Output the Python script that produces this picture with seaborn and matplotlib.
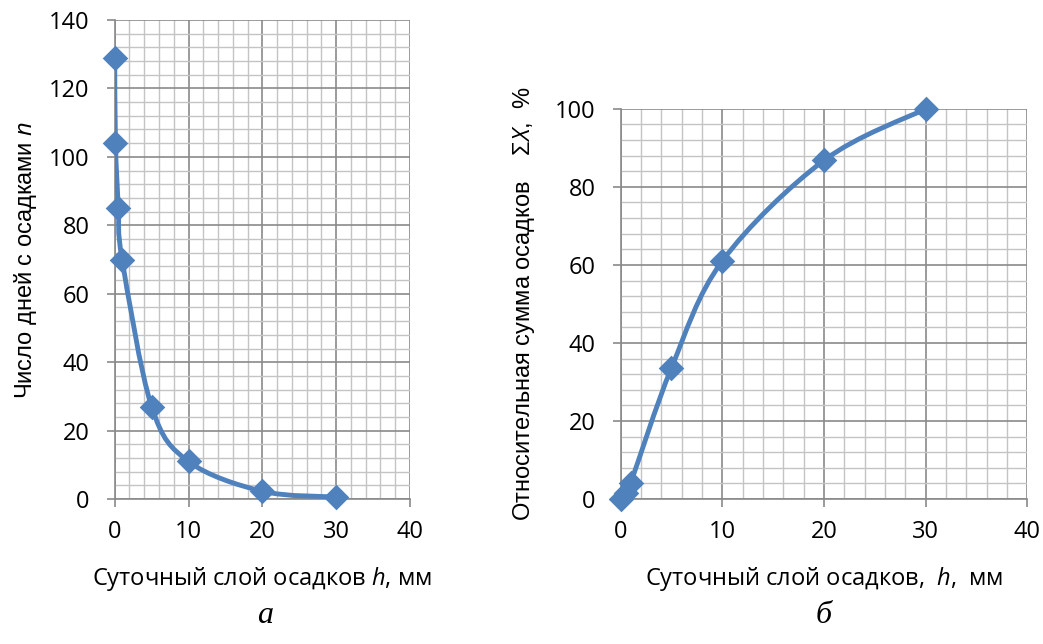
import numpy as np
import pandas as pd
import matplotlib
matplotlib.use("Agg")
import matplotlib.pyplot as plt
from matplotlib.path import Path
from matplotlib.patches import PathPatch
from matplotlib.ticker import MultipleLocator
import seaborn as sns

# panel a: number of days with precipitation
h_a = [0, 0.1, 0.5, 1, 5, 10, 20, 30]
n_days = [129, 104, 85, 70, 27, 11, 2.3, 0.6]

# panel b: relative cumulative precipitation, %
h_b = [0, 0.5, 1, 5, 10, 20, 30]
sum_x = [0, 1.5, 4.2, 33.6, 61, 86.8, 100]

BLUE = "#4F81BD"

sns.set_theme(style="white")
plt.rcParams['font.family'] = ['Open Sans', 'DejaVu Sans']
plt.rcParams['mathtext.fontset'] = 'custom'
plt.rcParams['mathtext.it'] = 'Open Sans:italic'
plt.rcParams['mathtext.rm'] = 'Open Sans'
plt.rcParams['text.color'] = 'black'
plt.rcParams['axes.labelcolor'] = 'black'


def smooth_line(ax, xs, ys):
    # excel-like smoothed line: cubic bezier with catmull-rom control points
    p = np.column_stack([xs, ys]).astype(float)
    pts = np.vstack([p[0], p, p[-1]])
    verts = [tuple(p[0])]
    codes = [Path.MOVETO]
    for i in range(1, len(pts) - 2):
        c1 = pts[i] + (pts[i + 1] - pts[i - 1]) / 6
        c2 = pts[i + 1] - (pts[i + 2] - pts[i]) / 6
        verts += [tuple(c1), tuple(c2), tuple(pts[i + 1])]
        codes += [Path.CURVE4] * 3
    ax.add_patch(PathPatch(Path(verts, codes), fill=False, edgecolor=BLUE,
                           lw=3.5, capstyle="round", joinstyle="round", zorder=3))


def style_axes(ax, ymax, ymajor):
    ax.set_xlim(0, 40)
    ax.set_ylim(0, ymax)
    ax.xaxis.set_major_locator(MultipleLocator(10))
    ax.xaxis.set_minor_locator(MultipleLocator(2))
    ax.yaxis.set_major_locator(MultipleLocator(ymajor))
    ax.yaxis.set_minor_locator(MultipleLocator(4))
    ax.grid(which="minor", color="#c4c4c4", lw=1.0)
    ax.grid(which="major", color="#8a8a8a", lw=1.2)
    ax.set_axisbelow(True)
    for s in ["top", "right"]:
        ax.spines[s].set_visible(False)
    for s in ["left", "bottom"]:
        ax.spines[s].set_color("#8a8a8a")
        ax.spines[s].set_linewidth(1.2)
    ax.tick_params(which="major", direction="out", length=6, width=1.2,
                   color="#8a8a8a", labelcolor="black", labelsize=17,
                   left=True, bottom=True)
    ax.tick_params(axis="x", pad=9)
    ax.tick_params(axis="y", pad=12)
    ax.tick_params(which="minor", length=0)


fig = plt.figure(figsize=(10.43, 6.44), dpi=100)
ax1 = fig.add_axes([0.110, 0.225, 0.283, 0.744])
ax2 = fig.add_axes([0.595, 0.225, 0.390, 0.606])

style_axes(ax1, 140, 20)
smooth_line(ax1, h_a, n_days)
sns.scatterplot(x=h_a, y=n_days, ax=ax1, marker="D", s=170, color=BLUE,
                edgecolor=BLUE, linewidth=0, zorder=4, clip_on=False)
ax1.set_xlabel("Суточный слой осадков $\\it{h}$, мм", fontsize=17, labelpad=15)
ax1.set_ylabel("Число дней с осадками $\\it{n}$", fontsize=17, labelpad=7,
               family=["Liberation Sans", "DejaVu Sans"])

style_axes(ax2, 100, 20)
smooth_line(ax2, h_b, sum_x)
sns.scatterplot(x=h_b, y=sum_x, ax=ax2, marker="D", s=170, color=BLUE,
                edgecolor=BLUE, linewidth=0, zorder=4, clip_on=False)
ax2.set_xlabel("Суточный слой осадков,  $\\it{h}$,  мм", fontsize=17, labelpad=15)
ax2.set_ylabel("Относительная сумма осадков    Σ$\\it{X}$,  %", fontsize=17,
               labelpad=13, family=["Liberation Sans", "DejaVu Sans"])

fig.text(0.254, 0.045, "а", fontsize=23, family="Liberation Serif", style="italic",
         ha="center", va="center")
fig.text(0.790, 0.045, "б", fontsize=23, family="Liberation Serif", style="italic",
         ha="center", va="center")

fig.savefig("out.png", dpi=100)
